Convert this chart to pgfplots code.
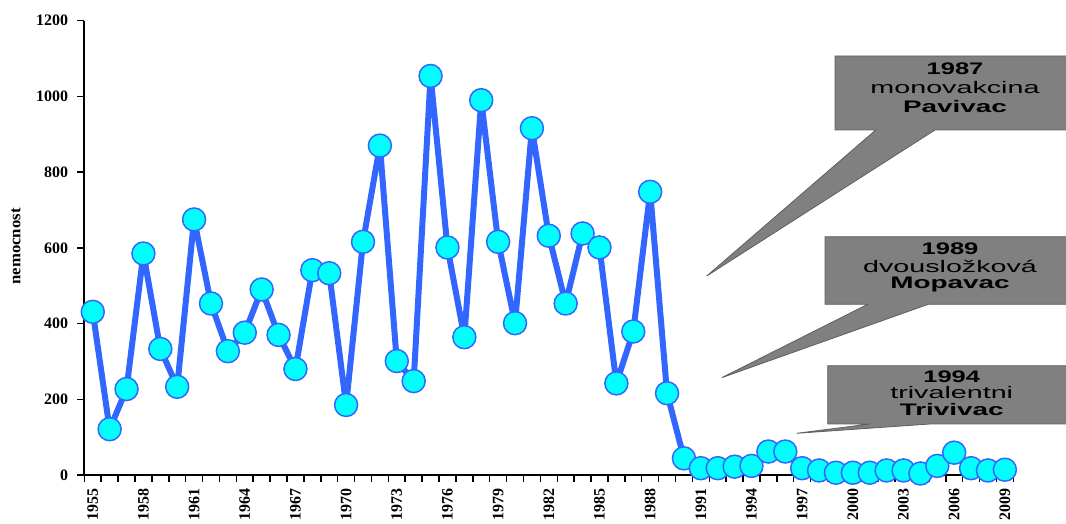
\documentclass[border=0pt]{standalone}
\usepackage{pgfplots}
\usepackage{pgfplotstable}
\pgfplotsset{compat=1.18}
\usepackage{fontspec}
\setmainfont{Liberation Serif}
\newfontfamily\arialfont{Liberation Sans}
\usepackage{graphicx}
\definecolor{lineblue}{RGB}{51,102,255}
\definecolor{mcyan}{RGB}{0,255,255}
\definecolor{cgray}{RGB}{128,128,128}
\definecolor{cedge}{RGB}{95,95,95}

\pgfplotstableread{
year val
1955 431
1956 121
1957 227
1958 585
1959 333
1960 233
1961 675
1962 453
1963 327
1964 376
1965 490
1966 370
1967 280
1968 541
1969 533
1970 185
1971 616
1972 870
1973 301
1974 248
1975 1054
1976 601
1977 364
1978 990
1979 616
1980 401
1981 916
1982 632
1983 453
1984 638
1985 601
1986 242
1987 379
1988 748
1989 216
1990 44
1991 18
1992 18
1993 22
1994 24
1995 62
1996 62
1997 18
1998 12
1999 6
2000 6
2001 6
2002 12
2003 12
2004 4
2005 24
2006 59
2007 18
2008 12
2009 14
}\datatable

\newcommand{\cfont}{\arialfont\fontsize{16}{16}\selectfont}

\begin{document}
\begin{tikzpicture}[x=1bp,y=1bp]
\useasboundingbox (0,0) rectangle (1066,524);
\begin{axis}[
  at={(84.3bp,49bp)}, anchor=south west,
  scale only axis, width=929bp, height=454.3bp,
  xmin=1954.5, xmax=2009.5, ymin=0, ymax=1200,
  clip=false,
  axis lines=left,
  axis line style={-, line width=2bp, black},
  xtick={1955,1958,...,2009},
  minor xtick={1954.5,1955.5,...,2009.5},
  ytick={0,200,...,1200},
  tick align=outside,
  major tick length=7bp,
  minor tick length=7bp,
  every major x tick/.append style={draw=none},
  every minor x tick/.append style={line width=1.5bp, black},
  every major y tick/.append style={line width=1.5bp, black},
  /pgf/number format/assume math mode=true,
  /pgf/number format/1000 sep={},
  x tick label style={font=\bfseries\fontsize{16}{16}\selectfont, rotate=90, anchor=east, inner sep=0pt},
  y tick label style={font=\bfseries\fontsize{16}{16}\selectfont, anchor=east, inner sep=0pt},
  xticklabel shift=6bp,
  yticklabel shift=9bp,
]
\addplot[lineblue, line width=6bp, line join=round, mark=*, mark size=11.5bp,
  mark options={fill=mcyan, draw=lineblue, line width=1.5bp}] table[x=year,y=val]{\datatable};
\end{axis}
\node[rotate=90, font=\bfseries\fontsize{16}{16}\selectfont] at (16,277.5) {\scalebox{1.05}[1]{nemocnost}};

% callout 1
\filldraw[fill=cgray, draw=cedge, line width=0.8bp] (835,468) -- (1070,468) -- (1070,394) -- (935,394) -- (706.7,248) -- (875.7,394) -- (835,394) -- cycle;
\node[font=\cfont] at (955,455) {\scalebox{1.6}[1.05]{\bfseries 1987}};
\node[font=\cfont] at (955,436) {\scalebox{1.8}[1.05]{monovakcina}};
\node[font=\cfont] at (955,417) {\scalebox{1.75}[1.05]{\bfseries Pavivac}};

% callout 2
\filldraw[fill=cgray, draw=cedge, line width=0.8bp] (825,287.3) -- (1070,287.3) -- (1070,219.7) -- (928.3,219.7) -- (721.7,146.3) -- (867.7,219.7) -- (825,219.7) -- cycle;
\node[font=\cfont] at (950,275.7) {\scalebox{1.6}[1.05]{\bfseries 1989}};
\node[font=\cfont] at (950,257.3) {\scalebox{1.8}[1.05]{dvousložková}};
\node[font=\cfont] at (950,239.7) {\scalebox{1.75}[1.05]{\bfseries Mopavac}};

% callout 3
\filldraw[fill=cgray, draw=cedge, line width=0.8bp] (827.7,158.3) -- (1070,158.3) -- (1070,100) -- (930,100) -- (796.7,90.7) -- (870,100) -- (827.7,100) -- cycle;
\node[font=\cfont] at (951.7,147.3) {\scalebox{1.6}[1.05]{\bfseries 1994}};
\node[font=\cfont] at (951.7,131.3) {\scalebox{1.8}[1.05]{trivalentni}};
\node[font=\cfont] at (951.7,114.7) {\scalebox{1.75}[1.05]{\bfseries Trivivac}};
\end{tikzpicture}
\end{document}
